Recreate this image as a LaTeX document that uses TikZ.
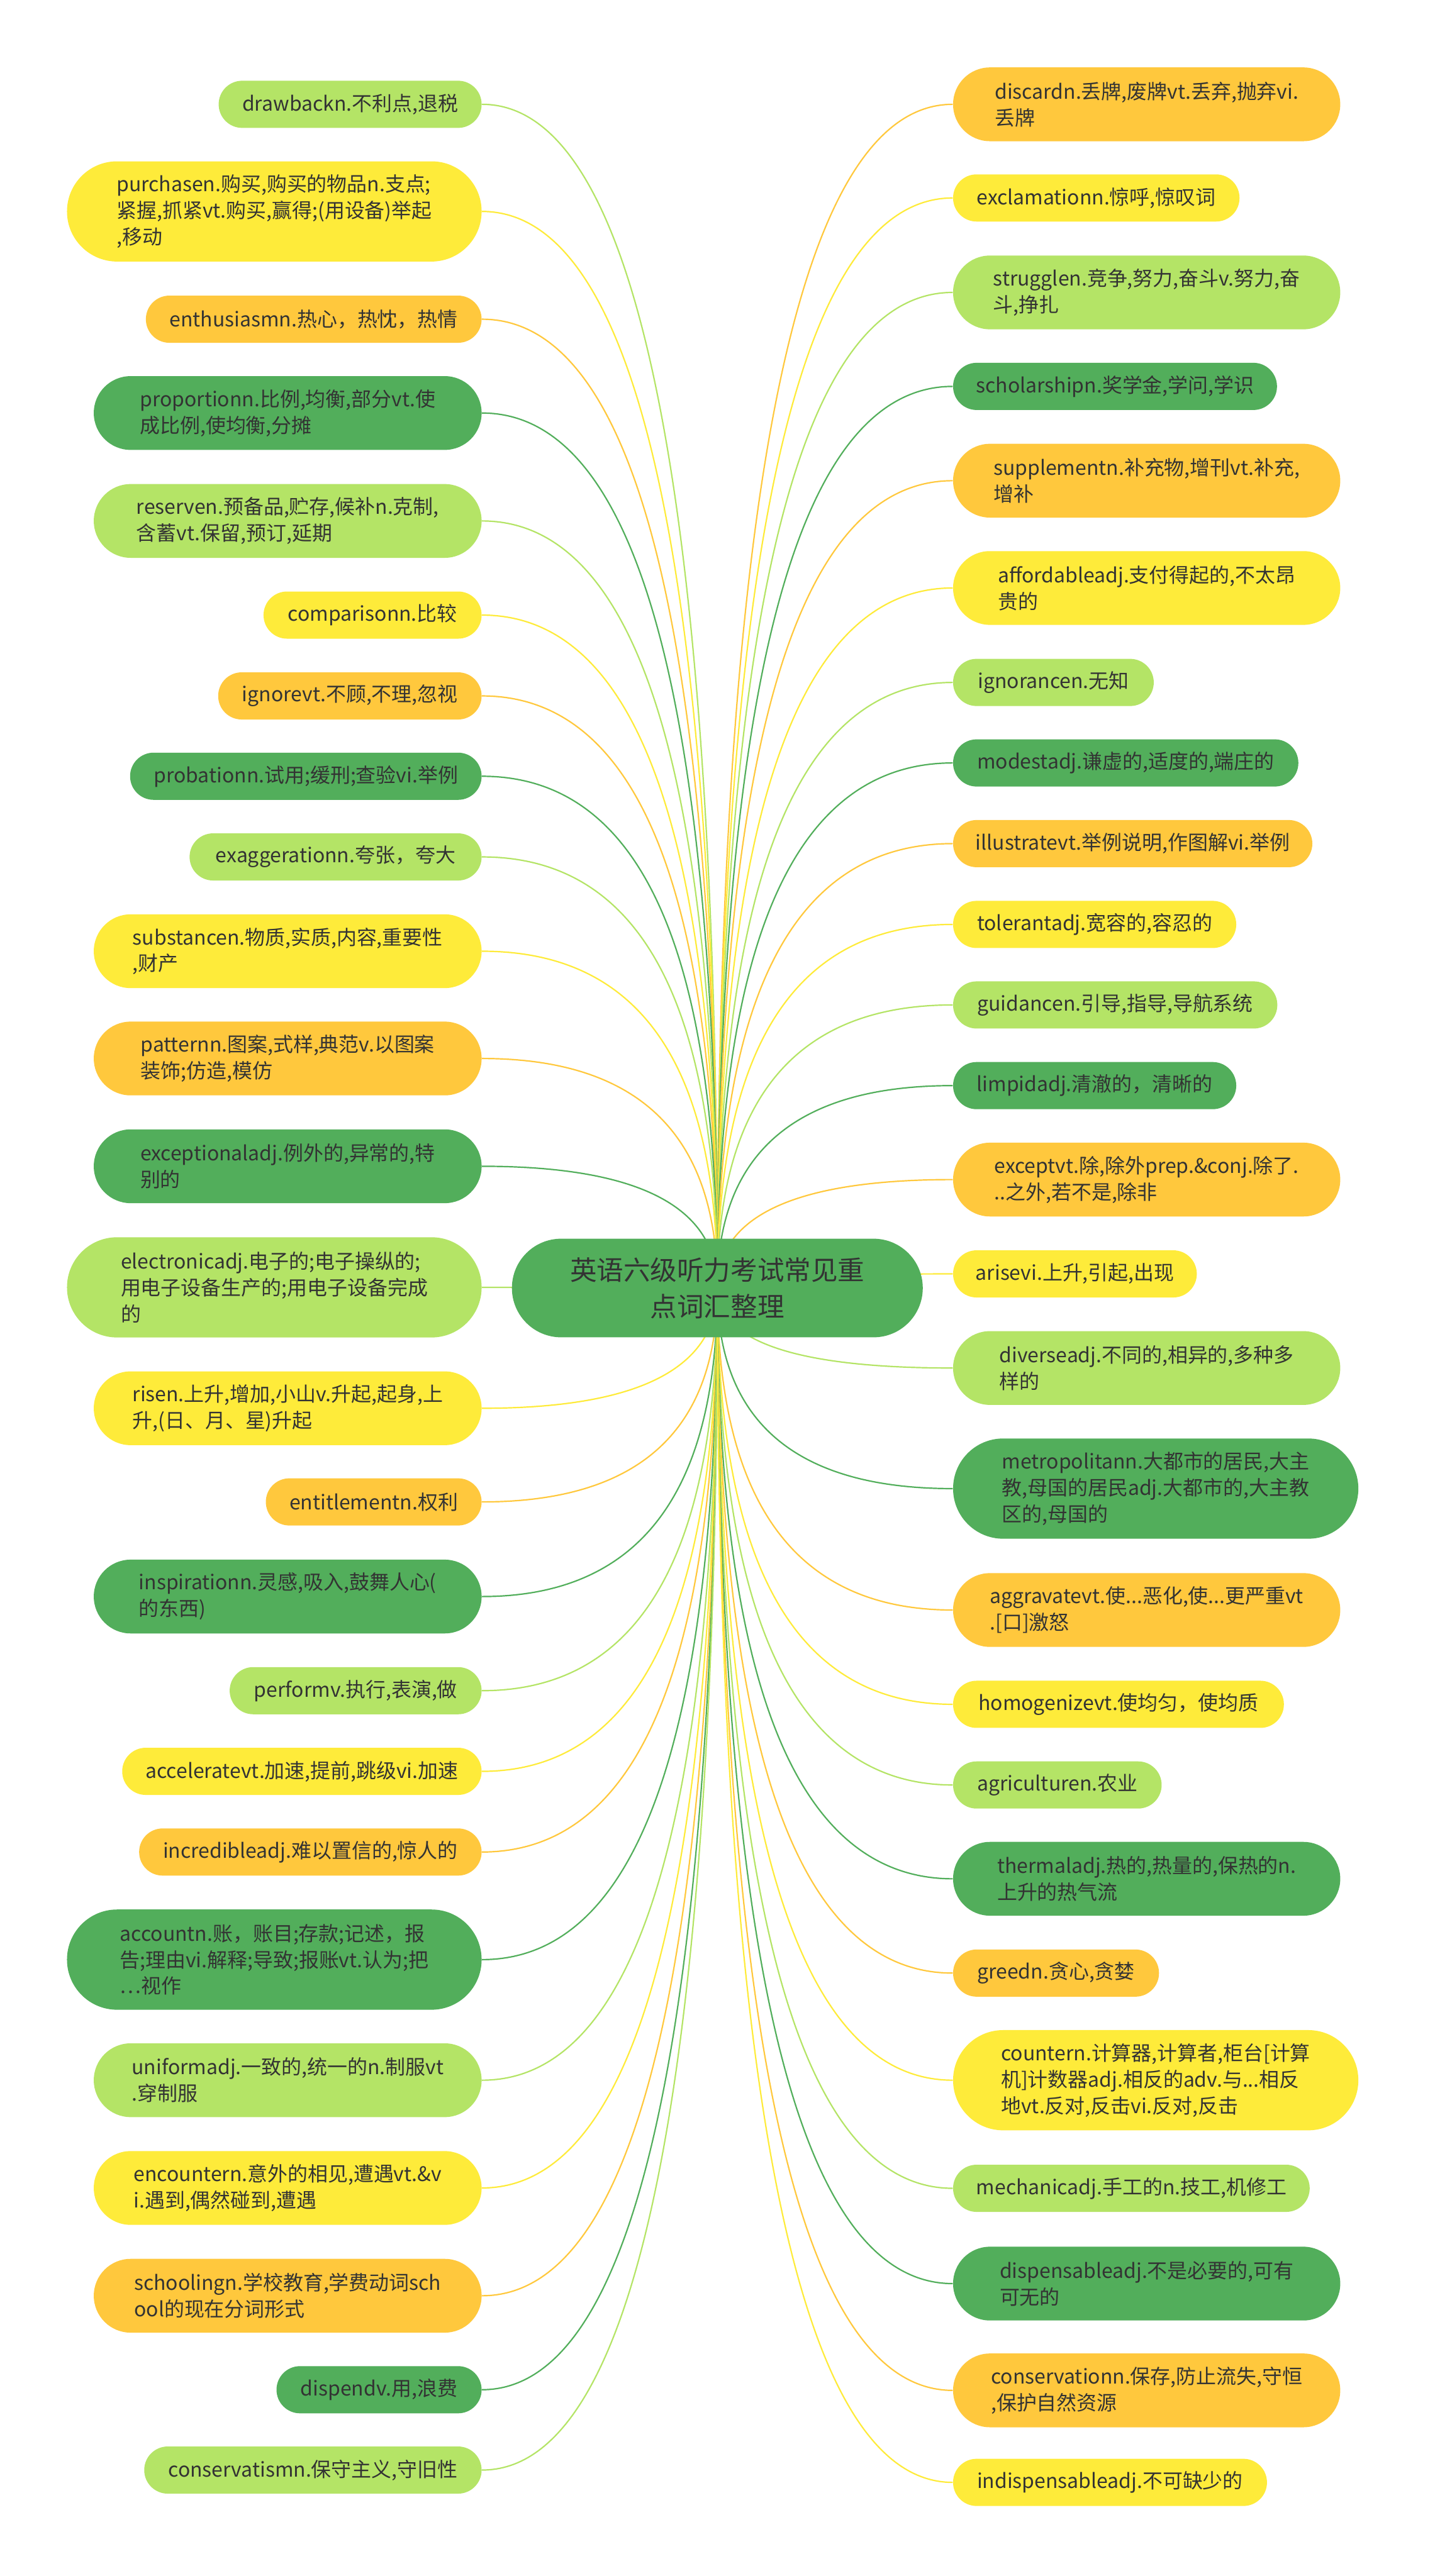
\documentclass[tikz,border=0pt]{standalone}
\usepackage{fontspec}
\setmainfont{Noto Sans CJK SC}
\usetikzlibrary{calc}
\definecolor{lg}{HTML}{B4E466}
\definecolor{ye}{HTML}{FEEB3A}
\definecolor{og}{HTML}{FFC83D}
\definecolor{dg}{HTML}{52AE5B}
\definecolor{tx}{HTML}{333333}
\pgfdeclarelayer{bg}
\pgfsetlayers{bg,main}
\newcommand\LN[6]{\node[#3, fill=#2, minimum width=#4*0.29325mm, anchor=east] (#1) at (293.3,#5) {#6};}
\newcommand\RN[6]{\node[#3, fill=#2, minimum width=#4*0.29325mm, anchor=west] (#1) at (579.7,#5) {#6};}
\newcommand\conn[3]{%
  \coordinate (k-#1) at (root.center |- #1.#3);
  \draw[link,#2] (root.center) .. controls ($(root.center)!0.6667!(k-#1)$) and ($(#1.#3)!0.6667!(k-#1)$) .. (#1.#3);}
\begin{document}
\begin{tikzpicture}[x=0.29325mm,y=-0.29325mm,
  box/.style={inner xsep=4pt, inner ysep=0pt, align=left, text=tx, font=\fontsize{10.2pt}{13.4pt}\selectfont},
  one/.style={box, minimum height=8.42mm, rounded corners=4.2mm},
  two/.style={box, minimum height=13.17mm, rounded corners=6.58mm},
  three/.style={box, minimum height=17.89mm, rounded corners=8.94mm},
  link/.style={line width=0.7pt}]
\useasboundingbox (0,0) rectangle (873,1568);
\node[fill=dg, text=tx, align=center, minimum width=250*0.29325mm, minimum height=17.6mm, rounded corners=8.79mm, inner sep=0pt, font=\fontsize{13.6pt}{18.5pt}\selectfont] (root) at (436.5,784) {英语六级听力考试常见重\\点词汇整理};
% left
\LN{drawback}{lg}{one}{160}{63.5}{drawbackn.不利点,退税}
\LN{purchase}{ye}{three}{252.3}{128.7}{purchasen.购买,购买的物品n.支点;\\紧握,抓紧vt.购买,赢得;(用设备)举起\\,移动}
\LN{enthusiasm}{og}{one}{204.3}{194.3}{enthusiasmn.热心，热忱，热情}
\LN{proportion}{dg}{two}{236}{251.4}{proportionn.比例,均衡,部分vt.使\\成比例,使均衡,分摊}
\LN{reserve}{lg}{two}{236}{317.1}{reserven.预备品,贮存,候补n.克制,\\含蓄vt.保留,预订,延期}
\LN{comparison}{ye}{one}{132.7}{374.4}{comparisonn.比较}
\LN{ignore}{og}{one}{160.3}{423.6}{ignorevt.不顾,不理,忽视}
\LN{probation}{dg}{one}{213.9}{472.5}{probationn.试用;缓刑;查验vi.举例}
\LN{exaggeration}{lg}{one}{177.7}{521.6}{exaggerationn.夸张，夸大}
\LN{substance}{ye}{two}{236}{579}{substancen.物质,实质,内容,重要性\\,财产}
\LN{pattern}{og}{two}{236}{644.3}{patternn.图案,式样,典范v.以图案\\装饰;仿造,模仿}
\LN{exceptional}{dg}{two}{236}{709.9}{exceptionaladj.例外的,异常的,特\\别的}
\LN{electronic}{lg}{three}{252.3}{783.6}{electronicadj.电子的;电子操纵的;\\用电子设备生产的;用电子设备完成\\的}
\LN{rise}{ye}{two}{236}{857.2}{risen.上升,增加,小山v.升起,起身,上\\升,(日、月、星)升起}
\LN{entitlement}{og}{one}{131.3}{914.2}{entitlementn.权利}
\LN{inspiration}{dg}{two}{236}{971.8}{inspirationn.灵感,吸入,鼓舞人心(\\的东西)}
\LN{perform}{lg}{one}{153.3}{1029.1}{performv.执行,表演,做}
\LN{accelerate}{ye}{one}{218.7}{1078.2}{acceleratevt.加速,提前,跳级vi.加速}
\LN{incredible}{og}{one}{208.4}{1127.3}{incredibleadj.难以置信的,惊人的}
\LN{account}{dg}{three}{252.3}{1192.8}{accountn.账，账目;存款;记述，报\\告;理由vi.解释;导致;报账vt.认为;把\\…视作}
\LN{uniform}{lg}{two}{236}{1266.2}{uniformadj.一致的,统一的n.制服vt\\.穿制服}
\LN{encounter}{ye}{two}{236}{1331.8}{encountern.意外的相见,遭遇vt.\&v\\i.遇到,偶然碰到,遭遇}
\LN{schooling}{og}{two}{236}{1397.4}{schoolingn.学校教育,学费动词sch\\ool的现在分词形式}
\LN{dispend}{dg}{one}{124.8}{1454.6}{dispendv.用,浪费}
\LN{conservatism}{lg}{one}{205.3}{1503.5}{conservatismn.保守主义,守旧性}
% right
\RN{discard}{og}{two}{235.6}{63.5}{discardn.丢牌,废牌vt.丢弃,抛弃vi.\\丢牌}
\RN{exclamation}{ye}{one}{174.3}{120.5}{exclamationn.惊呼,惊叹词}
\RN{struggle}{lg}{two}{235.6}{178}{strugglen.竞争,努力,奋斗v.努力,奋\\斗,挣扎}
\RN{scholarship}{dg}{one}{197.1}{235.2}{scholarshipn.奖学金,学问,学识}
\RN{supplement}{og}{two}{235.6}{292.6}{supplementn.补充物,增刊vt.补充,\\增补}
\RN{affordable}{ye}{two}{235.6}{357.9}{affordableadj.支付得起的,不太昂\\贵的}
\RN{ignorance}{lg}{one}{122.1}{415.4}{ignorancen.无知}
\RN{modest}{dg}{one}{210.1}{464.4}{modestadj.谦虚的,适度的,端庄的}
\RN{illustrate}{og}{one}{218.6}{513.5}{illustratevt.举例说明,作图解vi.举例}
\RN{tolerant}{ye}{one}{172.3}{562.7}{tolerantadj.宽容的,容忍的}
\RN{guidance}{lg}{one}{197.3}{611.7}{guidancen.引导,指导,导航系统}
\RN{limpid}{dg}{one}{172.3}{660.8}{limpidadj.清澈的，清晰的}
\RN{except}{og}{two}{235.6}{718}{exceptvt.除,除外prep.\&conj.除了.\\..之外,若不是,除非}
\RN{arise}{ye}{one}{148.3}{775.4}{arisevi.上升,引起,出现}
\RN{diverse}{lg}{two}{235.6}{832.7}{diverseadj.不同的,相异的,多种多\\样的}
\RN{metropolitan}{dg}{three}{246.6}{906.1}{metropolitann.大都市的居民,大主\\教,母国的居民adj.大都市的,大主教\\区的,母国的}
\RN{aggravate}{og}{two}{235.6}{980}{aggravatevt.使...恶化,使...更严重vt\\.[口]激怒}
\RN{homogenize}{ye}{one}{201.3}{1037.4}{homogenizevt.使均匀，使均质}
\RN{agriculture}{lg}{one}{126.9}{1086.5}{agriculturen.农业}
\RN{thermal}{dg}{two}{235.6}{1143.6}{thermaladj.热的,热量的,保热的n.\\上升的热气流}
\RN{greed}{og}{one}{125.3}{1201}{greedn.贪心,贪婪}
\RN{counter}{ye}{three}{246.6}{1266.2}{countern.计算器,计算者,柜台[计算\\机]计数器adj.相反的adv.与...相反\\地vt.反对,反击vi.反对,反击}
\RN{mechanic}{lg}{one}{217}{1332}{mechanicadj.手工的n.技工,机修工}
\RN{dispensable}{dg}{two}{235.6}{1390}{dispensableadj.不是必要的,可有\\可无的}
\RN{conservation}{og}{two}{235.6}{1455}{conservationn.保存,防止流失,守恒\\,保护自然资源}
\RN{indispensable}{ye}{one}{191}{1511}{indispensableadj.不可缺少的}
\begin{pgfonlayer}{bg}
\conn{drawback}{lg}{east}
\conn{purchase}{ye}{east}
\conn{enthusiasm}{og}{east}
\conn{proportion}{dg}{east}
\conn{reserve}{lg}{east}
\conn{comparison}{ye}{east}
\conn{ignore}{og}{east}
\conn{probation}{dg}{east}
\conn{exaggeration}{lg}{east}
\conn{substance}{ye}{east}
\conn{pattern}{og}{east}
\conn{exceptional}{dg}{east}
\conn{electronic}{lg}{east}
\conn{rise}{ye}{east}
\conn{entitlement}{og}{east}
\conn{inspiration}{dg}{east}
\conn{perform}{lg}{east}
\conn{accelerate}{ye}{east}
\conn{incredible}{og}{east}
\conn{account}{dg}{east}
\conn{uniform}{lg}{east}
\conn{encounter}{ye}{east}
\conn{schooling}{og}{east}
\conn{dispend}{dg}{east}
\conn{conservatism}{lg}{east}
\conn{discard}{og}{west}
\conn{exclamation}{ye}{west}
\conn{struggle}{lg}{west}
\conn{scholarship}{dg}{west}
\conn{supplement}{og}{west}
\conn{affordable}{ye}{west}
\conn{ignorance}{lg}{west}
\conn{modest}{dg}{west}
\conn{illustrate}{og}{west}
\conn{tolerant}{ye}{west}
\conn{guidance}{lg}{west}
\conn{limpid}{dg}{west}
\conn{except}{og}{west}
\conn{arise}{ye}{west}
\conn{diverse}{lg}{west}
\conn{metropolitan}{dg}{west}
\conn{aggravate}{og}{west}
\conn{homogenize}{ye}{west}
\conn{agriculture}{lg}{west}
\conn{thermal}{dg}{west}
\conn{greed}{og}{west}
\conn{counter}{ye}{west}
\conn{mechanic}{lg}{west}
\conn{dispensable}{dg}{west}
\conn{conservation}{og}{west}
\conn{indispensable}{ye}{west}
\end{pgfonlayer}
\end{tikzpicture}
\end{document}
